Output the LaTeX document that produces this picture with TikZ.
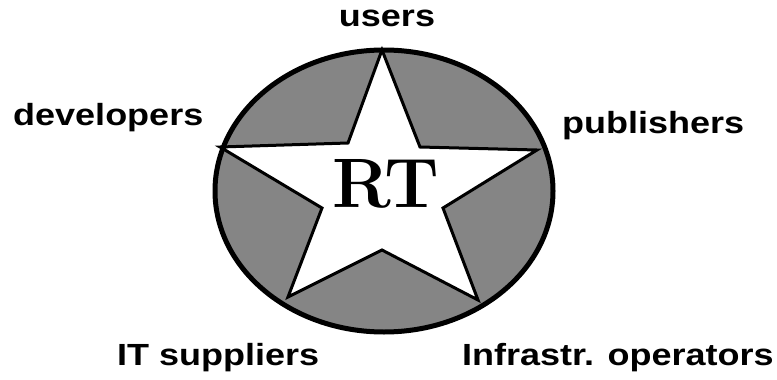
\documentclass[tikz,border=0pt]{standalone}
\usepackage{fontspec}
\setmainfont{Latin Modern Roman}
\newfontfamily\lblfont{Liberation Sans}
\newcommand\lbltext[1]{\scalebox{1}[0.85]{#1}}
\tikzset{
  lbl/.style={inner sep=0pt, font=\lblfont\bfseries\fontsize{36}{36}\selectfont},
}
\begin{document}
\begin{tikzpicture}[x=1pt,y=-1pt]
\useasboundingbox (0,0) rectangle (777,380);
% ellipse
\coordinate (c) at (384,191);
\filldraw[fill=black!48, draw=black, line width=5pt] (c) ellipse [x radius=169, y radius=141];
% star
\coordinate (s1) at (382,50);
\coordinate (i1) at (420,147);
\coordinate (s2) at (537,150);
\coordinate (i2) at (443,208);
\coordinate (s3) at (478,300);
\coordinate (i3) at (382,250);
\coordinate (s4) at (288,297);
\coordinate (i4) at (322,208);
\coordinate (s5) at (220,147);
\coordinate (i5) at (348,143);
\filldraw[fill=white, draw=black, line width=3pt, line join=miter]
  (s1) -- (i1) -- (s2) -- (i2) -- (s3) -- (i3) -- (s4) -- (i4) -- (s5) -- (i5) -- cycle;
\node[inner sep=0pt, anchor=base, font=\bfseries\fontsize{70}{70}\selectfont] (rt) at (386,207) {RT};
% labels
\node[lbl, anchor=base] (users) at (387,27) {\lbltext{users}};
\node[lbl, anchor=base west] (dev) at (13,125) {\lbltext{developers}};
\node[lbl, anchor=base west] (pub) at (562,133) {\lbltext{publishers}};
\node[lbl, anchor=base west] (its) at (117,365) {\lbltext{IT suppliers}};
\node[lbl, anchor=base west] (inf) at (462,365) {\lbltext{Infrastr. operators}};
\end{tikzpicture}
\end{document}
